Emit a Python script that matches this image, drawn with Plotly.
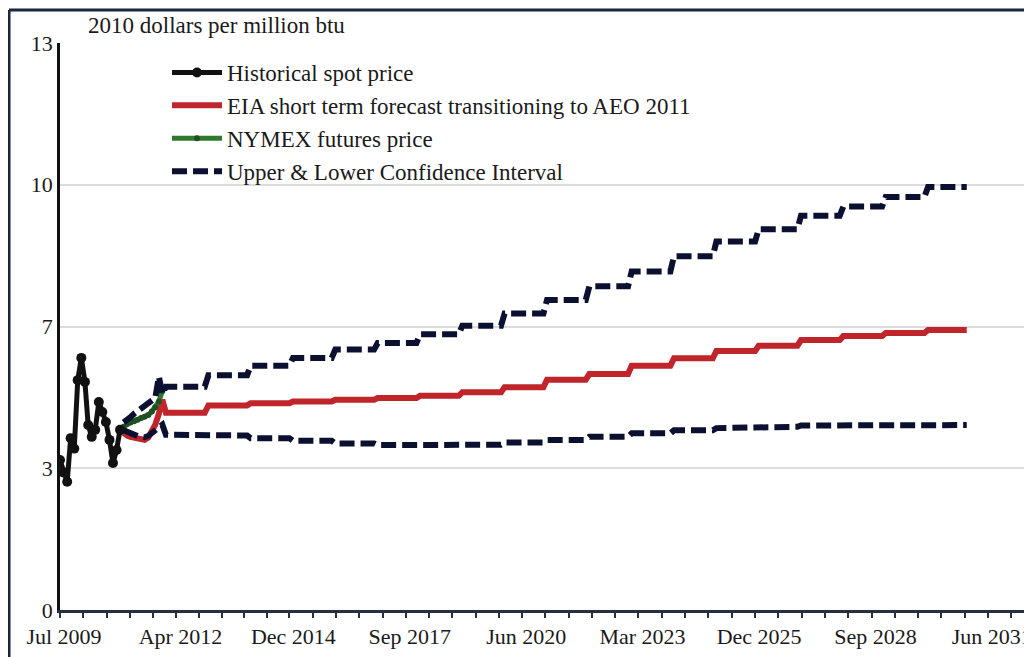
import pandas as pd
import plotly.graph_objects as go

# ---------------- data (2010 dollars per million btu) ----------------
hist_months = pd.date_range("2009-07-01", "2010-12-01", freq="MS")
hist_price = [3.44, 3.15, 2.94, 3.94, 3.70, 5.27, 5.78, 5.23, 4.24, 3.97,
              4.13, 4.77, 4.54, 4.31, 3.90, 3.37, 3.67, 4.13]

steo_months = pd.date_range("2010-12-01", "2011-12-01", freq="MS")
steo_price = [4.13, 4.05, 4.00, 3.97, 3.95, 3.93, 3.92, 3.90, 3.95, 4.10,
              4.25, 4.50, 4.82]

nymex_months = pd.date_range("2011-01-01", "2011-12-01", freq="MS")
nymex_price = [4.20, 4.27, 4.30, 4.33, 4.36, 4.40, 4.43, 4.47, 4.55, 4.65,
               4.78, 5.02]

ci_months = pd.date_range("2011-01-01", "2011-12-01", freq="MS")
upper_2011 = [4.30, 4.35, 4.42, 4.50, 4.56, 4.62, 4.68, 4.74, 4.80, 4.86,
              5.35, 4.95]
lower_2011 = [4.12, 4.08, 4.04, 4.01, 3.99, 3.97, 3.96, 3.99, 4.06, 4.14,
              4.20, 4.25]

aeo_years = list(range(2012, 2031))
aeo_ref = [4.52, 4.69, 4.74, 4.78, 4.82, 4.86, 4.91, 4.99, 5.11, 5.28,
           5.41, 5.60, 5.77, 5.94, 6.06, 6.19, 6.28, 6.35, 6.42]
aeo_upper = [5.12, 5.38, 5.60, 5.78, 5.97, 6.12, 6.32, 6.52, 6.80, 7.11,
             7.42, 7.76, 8.11, 8.45, 8.73, 9.04, 9.25, 9.47, 9.70]
aeo_lower = [4.02, 4.00, 3.94, 3.88, 3.82, 3.78, 3.77, 3.79, 3.84, 3.90,
             3.97, 4.05, 4.12, 4.17, 4.20, 4.23, 4.25, 4.24, 4.24]

x_tick_dates = ["2009-07-01", "2012-04-01", "2014-12-01", "2017-09-01",
                "2020-06-01", "2023-03-01", "2025-12-01", "2028-09-01",
                "2031-06-01"]
x_tick_labels = ["Jul 2009", "Apr 2012", "Dec 2014", "Sep 2017", "Jun 2020",
                 "Mar 2023", "Dec 2025", "Sep 2028", "Jun 2031"]
y_tick_vals = [0, 3.25, 6.5, 9.75, 13]
y_tick_labels = ["0", "3", "7", "10", "13"]


# annual AEO values held flat for every month of the year
def annual_to_monthly(years, vals):
    dates, out = [], []
    for yr, v in zip(years, vals):
        for m in range(1, 13):
            dates.append(pd.Timestamp(year=yr, month=m, day=1))
            out.append(v)
    return dates, out


aeo_dates, ref_m = annual_to_monthly(aeo_years, aeo_ref)
_, up_m = annual_to_monthly(aeo_years, aeo_upper)
_, lo_m = annual_to_monthly(aeo_years, aeo_lower)

ref_x = list(steo_months) + aeo_dates
ref_y = steo_price + ref_m
up_x = list(ci_months) + aeo_dates
up_y = upper_2011 + up_m
lo_x = list(ci_months) + aeo_dates
lo_y = lower_2011 + lo_m

# tick positions: labelled ticks plus 4 unlabelled subdivisions between them
major_ts = pd.to_datetime(x_tick_dates)
all_ticks, all_text = [], []
for i, a in enumerate(major_ts):
    all_ticks.append(a)
    all_text.append(x_tick_labels[i])
    b = major_ts[i + 1] if i + 1 < len(major_ts) else a + (a - major_ts[i - 1])
    for k in range(1, 5):
        all_ticks.append(a + (b - a) * k / 5)
        all_text.append("")
tick_strs = [t.strftime("%Y-%m-%d %H:%M") for t in all_ticks]

NAVY = "#0c1030"
RED = "#bf252b"
GREEN = "#2f7a2f"
FONT = "Liberation Serif, Times New Roman, Times, serif"
TXT = "#1a1a1a"

fig = go.Figure()

# drawing order: red, green, confidence interval, historical on top
fig.add_trace(go.Scatter(
    x=ref_x, y=ref_y, mode="lines", legendrank=2,
    name="EIA short term forecast transitioning to AEO 2011",
    line=dict(color=RED, width=6)))

fig.add_trace(go.Scatter(
    x=nymex_months, y=nymex_price, mode="lines+markers", legendrank=3,
    name="NYMEX futures price",
    line=dict(color=GREEN, width=5),
    marker=dict(color="#1f4f22", size=6)))

fig.add_trace(go.Scatter(
    x=up_x, y=up_y, mode="lines", legendrank=4, legendgroup="ci",
    name="Upper & Lower Confidence Interval",
    line=dict(color=NAVY, width=6, dash="15px,6px")))

fig.add_trace(go.Scatter(
    x=lo_x, y=lo_y, mode="lines", showlegend=False, legendgroup="ci",
    name="Upper & Lower Confidence Interval",
    line=dict(color=NAVY, width=6, dash="15px,6px")))

fig.add_trace(go.Scatter(
    x=hist_months, y=hist_price, mode="lines+markers", legendrank=1,
    name="Historical spot price",
    line=dict(color="#111111", width=5),
    marker=dict(color="#111111", size=10)))

# page body has an 8px margin: figure covers screen pixels 8..1032 / 8..657
OFF = 8
W, H = 1032 - OFF, 657 - OFF
L, R, T, B = 60 - OFF, 0, 43 - OFF, 657 - 610
pw, ph = W - L - R, H - T - B


def sx(px):  # screen px -> paper x
    return (px - OFF - L) / pw


def sy(py):  # screen px -> paper y
    return 1 - (py - OFF - T) / ph


fig.update_layout(
    width=W, height=H,
    margin=dict(l=L, r=R, t=T, b=B, pad=0, autoexpand=False),
    paper_bgcolor="white", plot_bgcolor="white",
    font=dict(family=FONT, size=22, color=TXT),
    showlegend=True,
    legend=dict(
        x=sx(167), y=sy(51), xanchor="left", yanchor="top",
        bgcolor="rgba(0,0,0,0)", font=dict(family=FONT, size=23, color=TXT),
        traceorder="normal", itemwidth=50),
    xaxis=dict(
        type="date", range=["2009-07-01", "2032-06-16"], automargin=False,
        tickmode="array", tickvals=tick_strs, ticktext=all_text,
        ticks="outside", ticklen=5, tickwidth=1.5, tickcolor="#263040",
        ticklabelshift=4,
        showline=True, linecolor="#263040", linewidth=3,
        showgrid=False, zeroline=False,
        tickfont=dict(family=FONT, size=22, color=TXT),
    ),
    yaxis=dict(
        range=[0, 13], automargin=False, tickmode="array", tickvals=y_tick_vals,
        ticktext=y_tick_labels, ticks="",
        showline=True, linecolor="#111111", linewidth=2.5,
        showgrid=True, gridcolor="#dcdcdc", gridwidth=1.5, zeroline=False,
        tickfont=dict(family=FONT, size=22, color=TXT),
    ),
    annotations=[dict(
        text="2010 dollars per million btu", xref="paper", yref="paper",
        x=sx(86), y=sy(25), xanchor="left", yanchor="middle",
        showarrow=False, font=dict(family=FONT, size=23, color=TXT))],
    shapes=[
        dict(type="line", xref="paper", yref="paper",
             x0=sx(9), x1=sx(9), y0=sy(10), y1=sy(680),
             line=dict(color="#1b2440", width=3)),
        dict(type="line", xref="paper", yref="paper",
             x0=sx(9), x1=sx(1050), y0=sy(10), y1=sy(10),
             line=dict(color="#1b2440", width=3)),
    ],
)

fig.write_html("out.html")
